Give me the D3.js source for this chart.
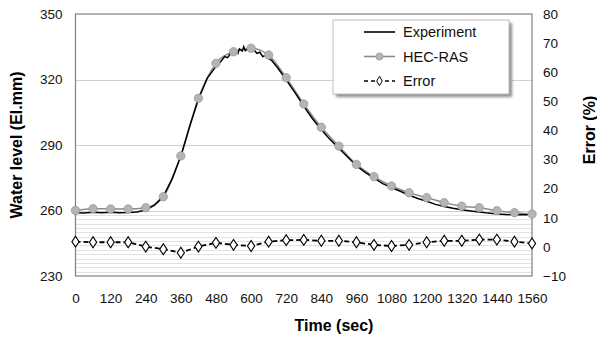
<!DOCTYPE html>
<html>
<head>
<meta charset="utf-8">
<script src="https://cdn.jsdelivr.net/npm/d3@7"></script>
<style>
  body { margin: 0; background: #fff; }
  svg { display: block; font-family: "Liberation Sans", Arial, sans-serif; }
</style>
</head>
<body>
<div id="chart"></div>
<script>
// HEC-RAS model, every 60 s
const modelTimes = [0, 60, 120, 180, 240, 300, 360, 420, 480, 540, 600, 660, 720, 780, 840, 900, 960, 1020, 1080, 1140, 1200, 1260, 1320, 1380, 1440, 1500, 1560];
const modelLevels = [260.0, 260.8, 260.7, 260.7, 261.3, 266.3, 285.0, 311.4, 327.4, 332.7, 334.3, 331.2, 320.8, 308.8, 298.1, 289.5, 281.1, 275.5, 271.2, 268.1, 265.9, 263.6, 262.0, 261.3, 259.9, 259.0, 258.4];
const errorPct = [1.8, 1.6, 1.6, 1.6, 0.1, -0.8, -2.0, 0.1, 1.4, 0.7, 0.3, 1.8, 2.3, 2.4, 2.1, 2.1, 1.6, 0.7, 0.3, 0.7, 1.6, 2.1, 2.1, 2.5, 2.5, 1.8, 1.2];

// measured water level
const expTimes = [0, 30, 60, 90, 120, 150, 180, 210, 240, 270, 300, 330, 360, 390, 420, 450, 480, 495, 510, 520, 530, 540, 550, 555, 560, 570, 575, 580, 590, 600, 610, 620, 630, 640, 650, 660, 670, 690, 720, 750, 780, 810, 840, 870, 900, 930, 960, 990, 1020, 1050, 1080, 1110, 1140, 1170, 1200, 1230, 1260, 1290, 1320, 1350, 1380, 1410, 1440, 1470, 1500, 1530, 1560];
const expLevels = [259.0, 258.8, 259.2, 259.0, 259.2, 259.0, 259.1, 259.3, 260.2, 262.5, 266.5, 274.5, 285.0, 298.5, 311.0, 320.5, 326.0, 328.0, 330.5, 330.0, 332.0, 331.2, 333.0, 332.0, 334.0, 333.0, 335.0, 333.2, 334.0, 333.0, 333.5, 332.0, 332.5, 330.5, 331.0, 329.5, 328.8, 325.5, 319.8, 314.0, 307.8, 302.0, 297.0, 292.5, 288.5, 284.5, 280.5, 277.5, 274.8, 272.3, 270.5, 268.8, 267.0, 265.5, 264.2, 262.8, 261.8, 261.0, 260.3, 259.8, 259.3, 258.8, 258.4, 258.2, 258.0, 258.0, 258.0];

const xTickValues = d3.range(0, 1561, 120);
const yTickValues = [230, 260, 290, 320, 350];
const yMinorValues = d3.range(232, 259, 2);
const errTickValues = d3.range(-10, 81, 10);
const legendItems = ["Experiment", "HEC-RAS", "Error"];

const width = 597;
const height = 341;
const margin = { top: 14, right: 65, bottom: 65, left: 75.5 };

const svg = d3.select("#chart").append("svg")
  .attr("width", width)
  .attr("height", height);

const x = d3.scaleLinear().domain([0, 1560]).range([margin.left, width - margin.right]);
const y = d3.scaleLinear().domain([230, 350]).range([height - margin.bottom, margin.top]);
const yErr = d3.scaleLinear().domain([-10, 80]).range([height - margin.bottom, margin.top]);

// minor dotted grid
svg.append("g")
  .selectAll("line")
  .data(yMinorValues)
  .join("line")
  .attr("x1", margin.left)
  .attr("x2", width - margin.right)
  .attr("y1", (d) => Math.round(y(d)) + 0.5)
  .attr("y2", (d) => Math.round(y(d)) + 0.5)
  .attr("stroke", "#c4c4c4")
  .attr("stroke-width", 1)
  .attr("stroke-dasharray", "1 1");

// major grid
svg.append("g")
  .selectAll("line")
  .data(yTickValues.filter((d) => d > 230 && d < 350))
  .join("line")
  .attr("x1", margin.left)
  .attr("x2", width - margin.right)
  .attr("y1", (d) => Math.round(y(d)) + 0.5)
  .attr("y2", (d) => Math.round(y(d)) + 0.5)
  .attr("stroke", "#cfcfcf")
  .attr("stroke-width", 1.2);

// frame
svg.append("rect")
  .attr("x", margin.left)
  .attr("y", margin.top)
  .attr("width", width - margin.right - margin.left)
  .attr("height", height - margin.bottom - margin.top)
  .attr("fill", "none")
  .attr("stroke", "#808080")
  .attr("stroke-width", 1.2);

// axes
const xAxis = svg.append("g")
  .attr("transform", `translate(0, ${height - margin.bottom})`)
  .call(d3.axisBottom(x).tickValues(xTickValues).tickFormat(d3.format("d")).tickSize(0).tickPadding(17));
const yAxis = svg.append("g")
  .attr("transform", `translate(${margin.left}, 0)`)
  .call(d3.axisLeft(y).tickValues(yTickValues).tickFormat(d3.format("d")).tickSize(0).tickPadding(13));
const errAxis = svg.append("g")
  .attr("transform", `translate(${width - margin.right}, 0)`)
  .call(d3.axisRight(yErr).tickValues(errTickValues).tickFormat(d3.format("d")).tickSize(0).tickPadding(11));

[xAxis, yAxis, errAxis].forEach((g) => {
  g.select(".domain").remove();
  g.selectAll("text")
    .attr("font-size", 13.5)
    .attr("fill", "#111")
    .attr("font-family", "Liberation Sans, Arial, sans-serif");
});

// axis titles
svg.append("text")
  .attr("transform", "rotate(-90)")
  .attr("x", -145)
  .attr("y", 22)
  .attr("text-anchor", "middle")
  .attr("font-size", 16)
  .attr("font-weight", "bold")
  .text("Water level (El.mm)");

svg.append("text")
  .attr("transform", "rotate(-90)")
  .attr("x", -130)
  .attr("y", 595)
  .attr("text-anchor", "middle")
  .attr("font-size", 16)
  .attr("font-weight", "bold")
  .text("Error (%)");

svg.append("text")
  .attr("x", 334)
  .attr("y", 331)
  .attr("text-anchor", "middle")
  .attr("font-size", 16)
  .attr("font-weight", "bold")
  .text("Time (sec)");

// error series
const errLine = d3.line()
  .x((d, i) => x(modelTimes[i]))
  .y((d) => yErr(d));

svg.append("path")
  .datum(errorPct)
  .attr("fill", "none")
  .attr("stroke", "#000")
  .attr("stroke-width", 1.8)
  .attr("stroke-dasharray", "5 3")
  .attr("d", errLine);

const diamond = d3.symbol().type(d3.symbolDiamond).size(34);
svg.append("g")
  .selectAll("path")
  .data(errorPct)
  .join("path")
  .attr("transform", (d, i) => `translate(${x(modelTimes[i])}, ${yErr(d)}) scale(1.15, 1)`)
  .attr("d", diamond)
  .attr("fill", "#fff")
  .attr("stroke", "#000")
  .attr("stroke-width", 1);

// HEC-RAS series
const modelLine = d3.line()
  .x((d, i) => x(modelTimes[i]))
  .y((d) => y(d))
  .curve(d3.curveMonotoneX);

svg.append("path")
  .datum(modelLevels)
  .attr("fill", "none")
  .attr("stroke", "#8a8a8a")
  .attr("stroke-width", 1.5)
  .attr("d", modelLine);

// experiment series
const expLine = d3.line()
  .x((d, i) => x(expTimes[i]))
  .y((d) => y(d));

svg.append("path")
  .datum(expLevels)
  .attr("fill", "none")
  .attr("stroke", "#000")
  .attr("stroke-width", 1.5)
  .attr("d", expLine);

svg.append("g")
  .selectAll("circle")
  .data(modelLevels)
  .join("circle")
  .attr("cx", (d, i) => x(modelTimes[i]))
  .attr("cy", (d) => y(d))
  .attr("r", 4.2)
  .attr("fill", "#b4b4b4")
  .attr("stroke", "#9a9a9a")
  .attr("stroke-width", 0.8);

// legend
const defs = svg.append("defs");
const blur = defs.append("filter").attr("id", "shadow").attr("x", "-10%").attr("y", "-10%").attr("width", "130%").attr("height", "140%");
blur.append("feGaussianBlur").attr("stdDeviation", 1.5);

const legend = svg.append("g").attr("transform", "translate(333, 20)");
legend.append("rect")
  .attr("x", 3)
  .attr("y", 3)
  .attr("width", 176)
  .attr("height", 74)
  .attr("fill", "#8c8c8c")
  .attr("filter", "url(#shadow)");
legend.append("rect")
  .attr("width", 176)
  .attr("height", 74)
  .attr("fill", "#fff")
  .attr("stroke", "#bdbdbd")
  .attr("stroke-width", 1);

const rows = legend.selectAll("g.row")
  .data(legendItems)
  .join("g")
  .attr("class", "row")
  .attr("transform", (d, i) => `translate(0, ${12 + i * 24.5})`);

rows.append("line")
  .attr("x1", 31)
  .attr("x2", 62)
  .attr("y1", 0)
  .attr("y2", 0)
  .attr("stroke", (d, i) => (i === 1 ? "#8a8a8a" : "#000"))
  .attr("stroke-width", 1.6)
  .attr("stroke-dasharray", (d, i) => (i === 2 ? "4 3" : null));

rows.filter((d, i) => i === 1)
  .append("circle")
  .attr("cx", 46.5)
  .attr("cy", 0)
  .attr("r", 3.6)
  .attr("fill", "#b4b4b4")
  .attr("stroke", "#9a9a9a")
  .attr("stroke-width", 0.8);

rows.filter((d, i) => i === 2)
  .append("path")
  .attr("transform", "translate(46.5, 0)")
  .attr("d", d3.symbol().type(d3.symbolDiamond).size(26))
  .attr("fill", "#fff")
  .attr("stroke", "#000")
  .attr("stroke-width", 1);

rows.append("text")
  .attr("x", 70)
  .attr("y", 5)
  .attr("font-size", 14.5)
  .attr("fill", "#111")
  .text((d) => d);
</script>
</body>
</html>
